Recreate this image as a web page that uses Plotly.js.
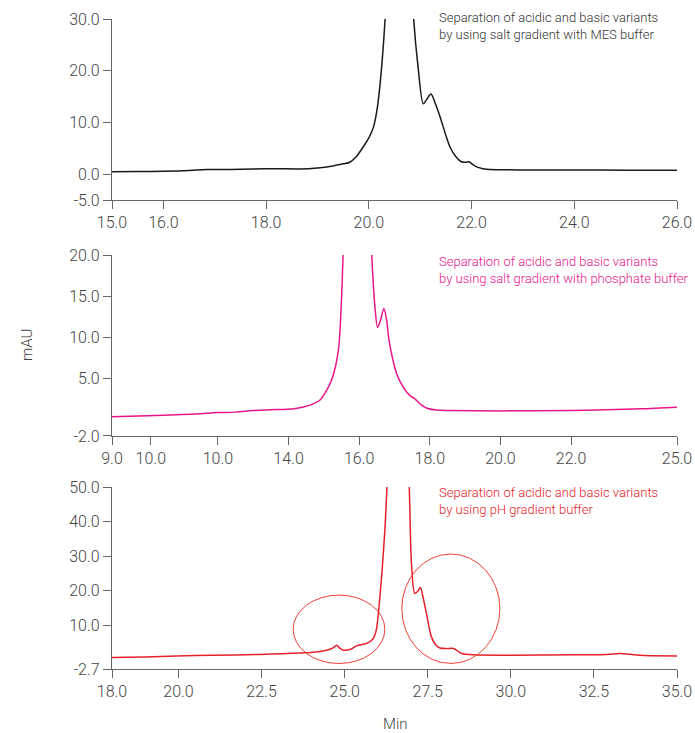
<!DOCTYPE html>
<html>
<head>
<meta charset="utf-8">
<script src="https://cdn.plot.ly/plotly-3.0.1.min.js"></script>
<style>html,body{margin:0;padding:0;background:#fff}#chart{width:695px;height:733px}</style>
</head>
<body>
<div id="chart"></div>
<script>
// Panel 1: salt gradient, MES buffer
const mesTime = [15.0, 15.5, 16.0, 16.5, 16.84, 17.3, 17.75, 18.2, 18.66, 19.0, 19.3, 19.5, 19.63, 19.75, 19.89, 20.0, 20.09, 20.16, 20.22, 20.32, 20.45, 20.6, 20.75, 20.87, 20.96, 21.06, 21.13, 21.21, 21.3, 21.39, 21.5, 21.58, 21.7, 21.8, 21.88, 21.95, 22.02, 22.1, 22.2, 22.3, 22.6, 23.0, 24.0, 25.0, 26.0];
const mesAbs  = [0.45, 0.5, 0.55, 0.7, 0.9, 0.9, 1.0, 1.05, 1.0, 1.2, 1.6, 2.0, 2.3, 3.3, 5.25, 7.0, 9.1, 12.5, 17.5, 30.5, 60, 80, 60, 30.5, 20.6, 13.6, 14.5, 15.5, 13.5, 11.0, 7.5, 5.25, 3.3, 2.4, 2.3, 2.4, 1.9, 1.4, 1.1, 0.96, 0.85, 0.82, 0.8, 0.78, 0.77];
// Panel 2: salt gradient, phosphate buffer
const phosTime = [9.0, 10.0, 11.0, 11.5, 11.97, 12.5, 13.0, 13.5, 13.95, 14.4, 14.7, 14.9, 15.03, 15.22, 15.41, 15.55, 15.75, 15.95, 16.15, 16.35, 16.45, 16.52, 16.6, 16.70, 16.78, 16.85, 17.06, 17.25, 17.44, 17.55, 17.63, 17.75, 17.9, 18.2, 18.5, 20.0, 22.0, 23.0, 24.0, 25.0];
const phosAbs  = [0.35, 0.45, 0.6, 0.7, 0.84, 0.9, 1.1, 1.2, 1.25, 1.5, 1.9, 2.4, 3.2, 4.8, 8.4, 20.5, 45, 60, 45, 20.5, 13.5, 11.2, 12.0, 13.5, 12.0, 9.5, 5.6, 3.9, 2.9, 2.6, 2.3, 1.8, 1.4, 1.15, 1.1, 1.05, 1.1, 1.2, 1.3, 1.5];
// Panel 3: pH gradient buffer
const phTime = [18.0, 19.0, 19.94, 21.0, 22.45, 23.65, 24.2, 24.46, 24.65, 24.76, 24.86, 24.96, 25.2, 25.36, 25.66, 25.85, 25.95, 26.06, 26.21, 26.28, 26.45, 26.6, 26.8, 26.94, 27.01, 27.11, 27.2, 27.28, 27.36, 27.46, 27.61, 27.75, 27.87, 28.05, 28.27, 28.4, 28.52, 28.87, 30.0, 32.0, 32.9, 33.28, 33.7, 34.0, 35.0];
const phAbs  = [0.64, 0.8, 1.1, 1.3, 1.5, 1.9, 2.3, 2.75, 3.4, 4.2, 3.3, 2.75, 3.1, 4.0, 4.7, 6.0, 8.5, 18.2, 37.5, 51, 75, 90, 75, 51, 27.9, 19.2, 19.8, 20.9, 18.0, 13.4, 6.6, 4.2, 3.4, 3.2, 3.25, 2.5, 1.8, 1.4, 1.3, 1.4, 1.5, 1.8, 1.4, 1.2, 1.1];

// Tick labels
const yTicks1 = [-5, 0, 10, 20, 30];
const yLabels1 = ['-5.0', '0.0', '10.0', '20.0', '30.0'];
const yTicks2 = [-2, 5, 10, 15, 20];
const yLabels2 = ['-2.0', '5.0', '10.0', '15.0', '20.0'];
const yTicks3 = [-2.7, 10, 20, 30, 40, 50];
const yLabels3 = ['-2.7', '10.0', '20.0', '30.0', '40.0', '50.0'];
const xTicks1 = [15, 16, 18, 20, 22, 24, 26];
const xLabels1 = ['15.0', '16.0', '18.0', '20.0', '22.0', '24.0', '26.0'];
const xTicks2 = [9, 10.1, 12, 14, 16, 18, 20, 22, 25];
const xLabels2 = ['9.0', '10.0', '10.0', '14.0', '16.0', '18.0', '20.0', '22.0', '25.0'];
const xTicks3 = [18, 20, 22.5, 25, 27.5, 30, 32.5, 35];
const xLabels3 = ['18.0', '20.0', '22.5', '25.0', '27.5', '30.0', '32.5', '35.0'];

// Circled regions (x0, x1, y0, y1)
const circleA = [23.45, 26.21, -1.1, 18.7];
const circleB = [26.72, 29.67, -1.1, 30.6];

const FONT = '"Roboto", "Liberation Sans", Arial, sans-serif';
const BLACK = '#1a1a1a', PINK = '#e8168a', RED = '#e8202a';

function common() {
  return {showline: true, linecolor: '#666', linewidth: 1.2, ticks: 'outside', ticklen: 8, tickcolor: '#666',
    showgrid: false, zeroline: false, tickfont: {size: 16, color: '#444', family: FONT, weight: 300}, fixedrange: true};
}
function yAx(domain, range, ticks, labels) {
  return Object.assign(common(), {domain: domain, range: range, tickvals: ticks, ticktext: labels});
}
function xAx(anchor, range, ticks, labels) {
  return Object.assign(common(), {anchor: anchor, range: range, tickvals: ticks, ticktext: labels});
}

const lineStyle = (c) => ({color: c, width: 1.5, shape: 'spline', smoothing: 0.8});
const traces = [
  {x: mesTime, y: mesAbs, xaxis: 'x', yaxis: 'y', mode: 'lines', line: lineStyle(BLACK), hoverinfo: 'skip'},
  {x: phosTime, y: phosAbs, xaxis: 'x2', yaxis: 'y2', mode: 'lines', line: lineStyle(PINK), hoverinfo: 'skip'},
  {x: phTime, y: phAbs, xaxis: 'x3', yaxis: 'y3', mode: 'lines', line: lineStyle(RED), hoverinfo: 'skip'}
];

const NOTE_X = (437 - 112) / 565;
const py = (p) => (669 - p) / 650;

const layout = {
  width: 695, height: 733,
  margin: {l: 112, r: 18, t: 19, b: 64},
  paper_bgcolor: '#fff', plot_bgcolor: '#fff',
  showlegend: false,
  xaxis: xAx('y', [15, 26], xTicks1, xLabels1),
  yaxis: yAx([0.7215, 1.0], [-5, 30], yTicks1, yLabels1),
  xaxis2: xAx('y2', [9, 25], xTicks2, xLabels2),
  yaxis2: yAx([0.3585, 0.6369], [-2, 20], yTicks2, yLabels2),
  xaxis3: xAx('y3', [18, 35], xTicks3, xLabels3),
  yaxis3: yAx([0, 0.28], [-2.7, 50], yTicks3, yLabels3),
  shapes: [
    {type: 'circle', xref: 'x3', yref: 'y3', x0: circleA[0], x1: circleA[1], y0: circleA[2], y1: circleA[3], line: {color: '#ee4035', width: 1}},
    {type: 'circle', xref: 'x3', yref: 'y3', x0: circleB[0], x1: circleB[1], y0: circleB[2], y1: circleB[3], line: {color: '#ee4035', width: 1}}
  ],
  annotations: [
    {xref: 'paper', yref: 'paper', x: NOTE_X, y: py(8), xanchor: 'left', yanchor: 'top', align: 'left', showarrow: false,
      text: 'Separation of acidic and basic variants<br>by using salt gradient with MES buffer', font: {size: 13, color: '#333', family: FONT, weight: 300}},
    {xref: 'paper', yref: 'paper', x: NOTE_X, y: py(252), xanchor: 'left', yanchor: 'top', align: 'left', showarrow: false,
      text: 'Separation of acidic and basic variants<br>by using salt gradient with phosphate buffer', font: {size: 13, color: PINK, family: FONT, weight: 300}},
    {xref: 'paper', yref: 'paper', x: NOTE_X, y: py(483), xanchor: 'left', yanchor: 'top', align: 'left', showarrow: false,
      text: 'Separation of acidic and basic variants<br>by using pH gradient buffer', font: {size: 13, color: RED, family: FONT, weight: 300}},
    {xref: 'paper', yref: 'paper', x: (27 - 112) / 565, y: py(345), xanchor: 'center', yanchor: 'middle', showarrow: false,
      text: 'mAU', textangle: -90, font: {size: 15, color: '#444', family: FONT, weight: 300}},
    {xref: 'paper', yref: 'paper', x: (395 - 112) / 565, y: py(724), xanchor: 'center', yanchor: 'middle', showarrow: false,
      text: 'Min', font: {size: 15, color: '#444', family: FONT, weight: 300}}
  ]
};

Plotly.newPlot('chart', traces, layout, {displayModeBar: false, staticPlot: true});
</script>
</body>
</html>
